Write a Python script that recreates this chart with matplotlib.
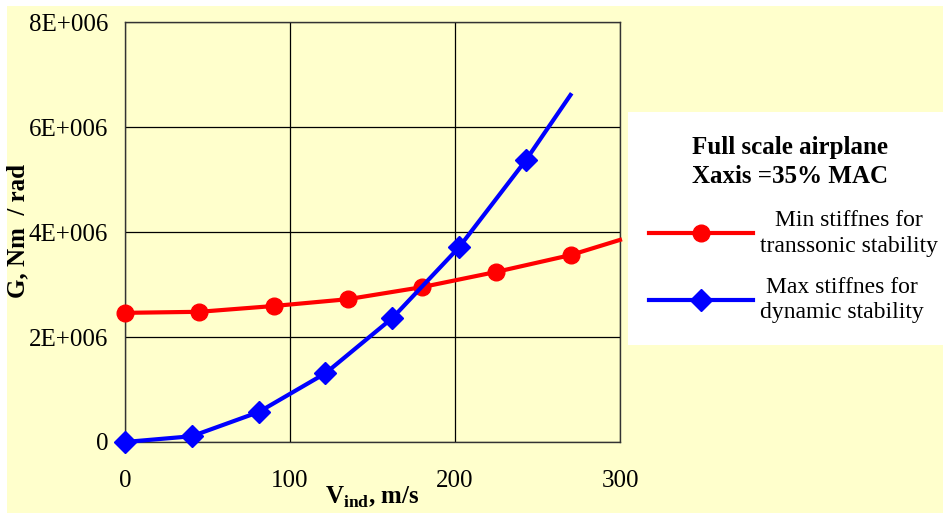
import matplotlib
matplotlib.use("Agg")
import matplotlib.pyplot as plt
from matplotlib.patches import Rectangle
from matplotlib.lines import Line2D

# -------------------------------------------------
# Data
# -------------------------------------------------
v_min = [0, 45, 90, 135, 180, 225, 270, 300]
g_min = [2.46e6, 2.48e6, 2.59e6, 2.72e6, 2.95e6, 3.24e6, 3.56e6, 3.85e6]

v_max = [0, 40.5, 81, 121.5, 162, 202.5, 243, 270]
g_max = [0.0, 0.11e6, 0.57e6, 1.31e6, 2.36e6, 3.71e6, 5.37e6, 6.61e6]

x_ticks = [0, 100, 200, 300]
y_ticks = [0, 2e6, 4e6, 6e6, 8e6]
y_ticklabels = ["0", "2E+006", "4E+006", "6E+006", "8E+006"]

label_min = "Min stiffnes for\ntranssonic stability"
label_max = "Max stiffnes for\ndynamic stability"
legend_title = "Full scale airplane\nXaxis =35% MAC"

# -------------------------------------------------
# Style
# -------------------------------------------------
plt.rcParams["font.family"] = ["Liberation Serif", "DejaVu Serif"]
plt.rcParams["mathtext.fontset"] = "custom"
plt.rcParams["mathtext.rm"] = "Liberation Serif:bold"
plt.rcParams["mathtext.bf"] = "Liberation Serif:bold"
bg = "#FFFFCC"
fs = 18

fig = plt.figure(figsize=(9.43, 5.13), dpi=100, facecolor="white")
fig.patches.append(Rectangle((7 / 943, 0), 1, 1 - 6 / 513, transform=fig.transFigure,
                             facecolor=bg, edgecolor="none", zorder=-10))

ax = fig.add_axes([125 / 943, 71 / 513, 495 / 943, 420 / 513])
ax.set_facecolor(bg)

ax.plot(v_min, g_min, color="#FF0000", lw=3, marker="o", markersize=12,
        markevery=list(range(len(v_min) - 1)), clip_on=False, zorder=3)
ax.plot(v_max, g_max, color="#0000FF", lw=3, marker="D", markersize=11,
        markevery=list(range(len(v_max) - 1)), clip_on=False, zorder=4)

ax.set_xlim(0, 300)
ax.set_ylim(0, 8e6)
ax.set_xticks(x_ticks)
ax.set_yticks(y_ticks)
ax.set_yticklabels(y_ticklabels)
ax.tick_params(length=0, labelsize=fs, pad=12)
ax.tick_params(axis="x", pad=20)
ax.grid(True, color="black", lw=0.9)
for s in ax.spines.values():
    s.set_color("#333333")
    s.set_linewidth(1.0)

fig.text(18 / 943, 1 - 231 / 513, "G, Nm  / rad", rotation=90, fontsize=fs,
         fontweight="bold", ha="center", va="center")
fig.text(372 / 943, 1 - 497 / 513, r"V$_{\mathrm{ind}}$, m/s", fontsize=fs,
         fontweight="bold", ha="center", va="center")

# -------------------------------------------------
# Legend box
# -------------------------------------------------
fig.patches.append(Rectangle((628 / 943, 1 - 345 / 513), 1, 233 / 513,
                             transform=fig.transFigure, facecolor="white",
                             edgecolor="none", zorder=1))
fig.text(790 / 943, 1 - 162 / 513, legend_title, fontsize=fs, fontweight="bold",
         ha="center", va="center", linespacing=1.35, zorder=5)

handles = [
    Line2D([0], [0], color="#FF0000", lw=3, marker="o", markersize=12),
    Line2D([0], [0], color="#0000FF", lw=3, marker="D", markersize=11),
]
leg = fig.legend(handles, [label_min, label_max], loc="upper left",
                 bbox_to_anchor=(637 / 943, 1 - 198 / 513), frameon=False,
                 fontsize=17, handlelength=4.4, handletextpad=0.3,
                 labelspacing=0.85, borderpad=0)
for t in leg.get_texts():
    t.set_multialignment("center")
    t.set_linespacing(1.3)

fig.savefig("out.png", dpi=100, facecolor=fig.get_facecolor())
